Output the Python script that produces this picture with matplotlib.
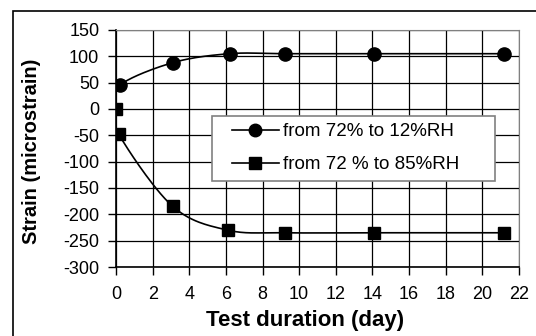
import numpy as np
import matplotlib
matplotlib.use("Agg")
import matplotlib.pyplot as plt
from matplotlib.patches import Rectangle

plt.rcParams['font.family'] = ['Liberation Sans', 'DejaVu Sans']
plt.rcParams['axes.unicode_minus'] = False

# data
days_dry = [0.0, 0.2, 3.1, 6.2, 9.2, 14.1, 21.2]
strain_dry = [0, 45, 88, 105, 105, 105, 105]
days_wet = [0.0, 0.15, 3.1, 6.1, 9.2, 14.1, 21.2]
strain_wet = [0, -48, -185, -230, -235, -235, -235]
label_dry = "from 72% to 12%RH"
label_wet = "from 72 % to 85%RH"


def smooth(x, y, n=30):
    # Catmull-Rom style smoothing, like Excel's "smoothed line"
    x = np.asarray(x, float)
    y = np.asarray(y, float)
    px = np.concatenate([[x[0]], x, [x[-1]]])
    py = np.concatenate([[y[0]], y, [y[-1]]])
    xs, ys = [], []
    t = np.linspace(0, 1, n)
    for i in range(1, len(px) - 2):
        for p, out in ((px, xs), (py, ys)):
            p0, p1, p2, p3 = p[i - 1], p[i], p[i + 1], p[i + 2]
            m1 = (p2 - p0) / 2
            m2 = (p3 - p1) / 2
            h00 = 2 * t**3 - 3 * t**2 + 1
            h10 = t**3 - 2 * t**2 + t
            h01 = -2 * t**3 + 3 * t**2
            h11 = t**3 - t**2
            out.extend(h00 * p1 + h10 * m1 + h01 * p2 + h11 * m2)
    return xs, ys


W, H = 536, 336
fig = plt.figure(figsize=(W / 100, H / 100), dpi=100)
ax = fig.add_axes([116 / W, 1 - 267 / H, (519 - 116) / W, (267 - 30) / H])

# outer frame (only left and top visible)
fig.patches.append(Rectangle((13 / W, -0.1), 1.2, 1 - 11 / H + 0.1,
                             transform=fig.transFigure, fill=False,
                             edgecolor='black', linewidth=1.2))

sx, sy = smooth(days_dry, strain_dry)
ax.plot(sx, sy, color='black', linewidth=1.2)
ax.plot(days_dry[1:], strain_dry[1:], linestyle='none', marker='o',
        markersize=9.5, color='black')
sx, sy = smooth(days_wet, strain_wet)
ax.plot(sx, sy, color='black', linewidth=1.2)
ax.plot(days_wet, strain_wet, linestyle='none', marker='s',
        markersize=9, color='black')

# legend proxies
ax.plot([], [], color='black', marker='o', markersize=9, linewidth=1.2, label=label_dry)
ax.plot([], [], color='black', marker='s', markersize=8.5, linewidth=1.2, label=label_wet)

ax.set_xlim(0, 22)
ax.set_ylim(-300, 150)
ax.set_xticks(np.arange(0, 23, 2))
ax.set_yticks(np.arange(-300, 151, 50))
ax.grid(True, color='black', linewidth=0.9)
ax.tick_params(direction='out', length=6, width=1, labelsize=13, colors='black')
ax.tick_params(axis='y', pad=6)
ax.tick_params(axis='x', pad=8)
for side in ['top', 'right']:
    ax.spines[side].set_color('gray')
ax.spines['left'].set_linewidth(1.2)
ax.spines['bottom'].set_linewidth(1.2)

ax.set_xlabel("Test duration (day)", fontsize=16, fontweight='bold')
ax.set_ylabel("Strain (microstrain)", fontsize=14.5, fontweight='bold')
ax.xaxis.set_label_coords((305 - 116) / 403, -(310 - 267) / 237)
ax.yaxis.set_label_coords((41 - 116) / 403, 0.49)

# legend box drawn separately, legend itself frameless
box = Rectangle((212 / W, 1 - 181 / H), 283 / W, 65 / H, transform=fig.transFigure,
                facecolor='white', edgecolor='gray', linewidth=1.2, zorder=4,
                clip_on=False)
ax.add_patch(box)
leg = ax.legend(loc='upper left', bbox_to_anchor=(232 / W, 1 - 123 / H),
                bbox_transform=fig.transFigure,
                fontsize=13.5, frameon=False, borderaxespad=0, borderpad=0,
                handlelength=2.5, handletextpad=0.2, labelspacing=0.85)
leg.set_zorder(5)

fig.savefig("out.png", dpi=100)
